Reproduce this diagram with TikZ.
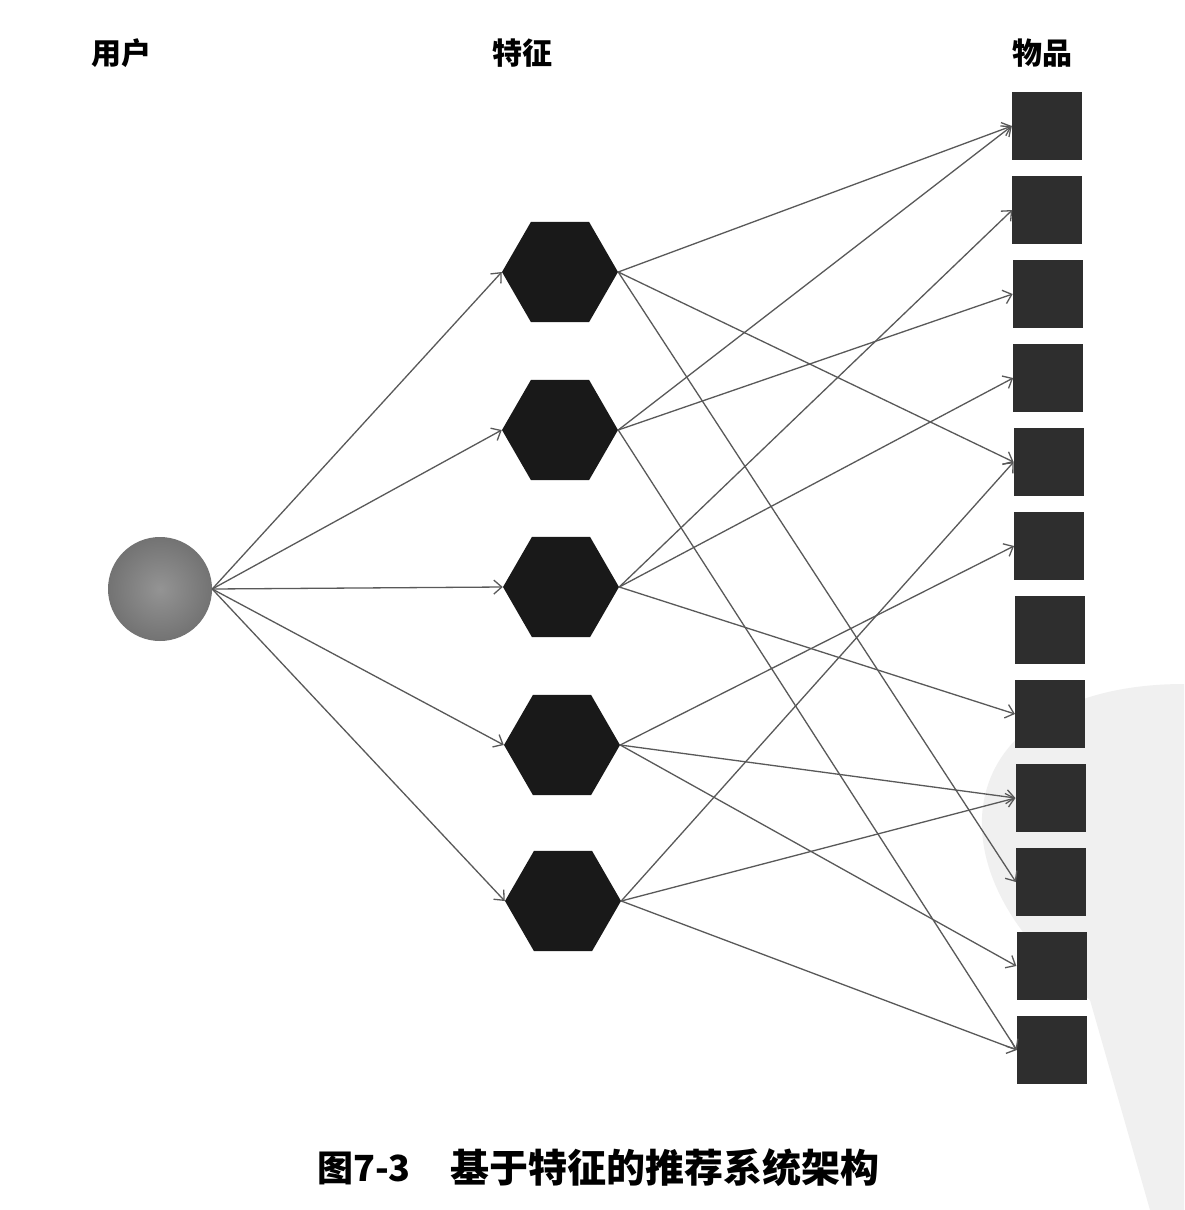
\documentclass[tikz,border=0pt]{standalone}
\usepackage{fontspec}
\newfontfamily\cjk{Noto Sans CJK SC}
\usetikzlibrary{shapes.geometric,arrows.meta}
\begin{document}
\begin{tikzpicture}[x=1pt,y=-1pt,
  hexnode/.style={regular polygon, regular polygon sides=6, minimum size=116pt, inner sep=0pt, fill=black!90, draw=none},
  itemnode/.style={rectangle, minimum width=70pt, minimum height=68pt, inner sep=0pt, fill=black!82},
  usernode/.style={circle, minimum size=104pt, inner sep=0pt, inner color=black!42, outer color=black!55},
  link/.style={draw=black!65, line width=1.3pt, -{Straight Barb[length=8pt,width=14pt]}},
  lbl/.style={font=\cjk\bfseries\fontsize{30}{30}\selectfont, inner sep=0pt},
  captext/.style={font=\cjk\bfseries\fontsize{36}{36}\selectfont, inner sep=0pt},
]
\useasboundingbox[fill=white] (0,0) rectangle (1184,1210);
% faint scan watermark
\fill[black!6] (1184,684) .. controls (1060,684) and (978,740) .. (982,830)
  .. controls (986,900) and (1040,960) .. (1090,1000) -- (1150,1210) -- (1184,1210) -- cycle;

% column labels
\node[lbl] (luser) at (121,53) {用户};
\node[lbl] (lfeat) at (522,53) {特征};
\node[lbl] (litem) at (1042,53) {物品};

% user
\node[usernode] (u) at (160,589) {};

% features
\node[hexnode] (h1) at (560,272) {};
\node[hexnode] (h2) at (560,430) {};
\node[hexnode] (h3) at (561,587) {};
\node[hexnode] (h4) at (562,745) {};
\node[hexnode] (h5) at (563,901) {};

% items
\foreach \i in {1,...,12} {
  \node[itemnode] (s\i) at ({1047+(\i-1)*5/11},{126+(\i-1)*84}) {};
}

% user -> features
\foreach \h in {h1,h2,h3,h4,h5} {
  \draw[link] (u.east) -- (\h.west);
}

% features -> items
\foreach \h/\s in {h1/s1,h1/s5,h1/s10,
                   h2/s1,h2/s3,h2/s12,
                   h3/s2,h3/s4,h3/s8,
                   h4/s6,h4/s9,h4/s11,
                   h5/s5,h5/s9,h5/s12} {
  \draw[link] (\h.east) -- (\s.west);
}

% caption
\node[captext] (cap1) at (364,1168) {图7-3};
\node[captext, anchor=west, font=\cjk\bfseries\fontsize{39}{39}\selectfont] (cap2) at (450,1168) {基于特征的推荐系统架构};
\end{tikzpicture}
\end{document}
